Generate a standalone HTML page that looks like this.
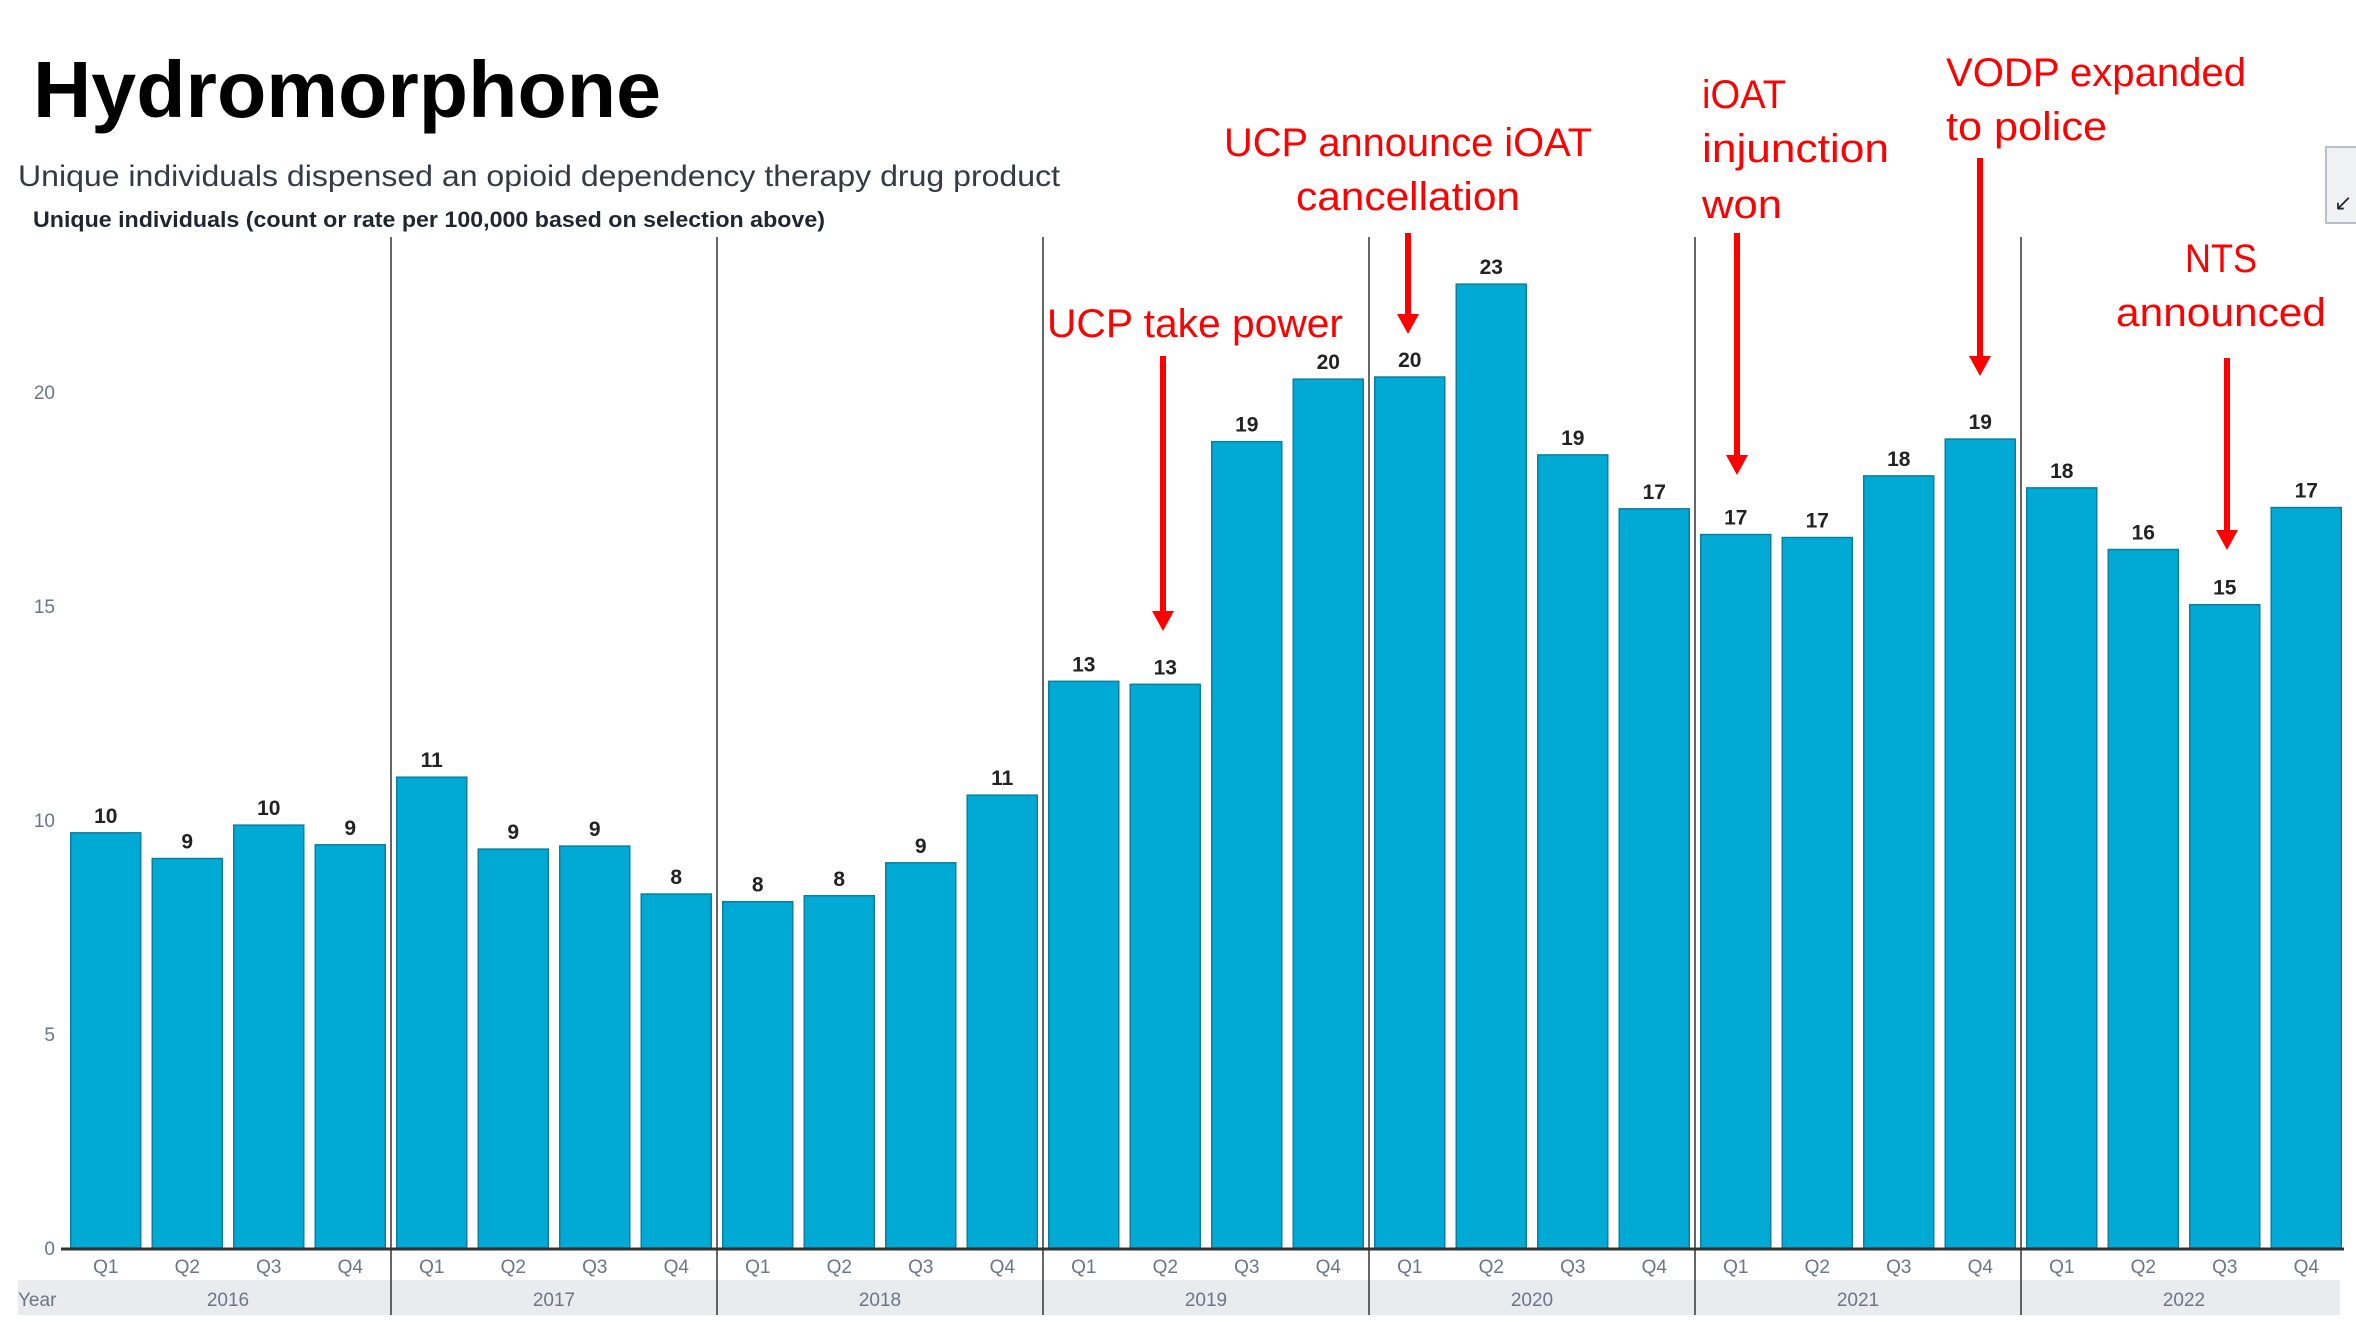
<!DOCTYPE html>
<html><head><meta charset="utf-8"><style>
html,body{margin:0;padding:0;background:#fff;width:2356px;height:1324px;overflow:hidden}
svg{display:block}
text{font-family:"Liberation Sans",sans-serif}
</style></head><body>
<svg id="chart" width="2356" height="1324" viewBox="0 0 2356 1324">
<text x="33" y="117" font-size="80" font-weight="bold" fill="#000" textLength="628" lengthAdjust="spacingAndGlyphs">Hydromorphone</text>
<text x="18" y="186" font-size="30" fill="#333a44" textLength="1042" lengthAdjust="spacingAndGlyphs">Unique individuals dispensed an opioid dependency therapy drug product</text>
<text x="33" y="227" font-size="22" font-weight="bold" fill="#1f2630" textLength="792" lengthAdjust="spacingAndGlyphs">Unique individuals (count or rate per 100,000 based on selection above)</text>
<rect x="18" y="1280" width="2322" height="35" fill="#e9ecef"/>
<text x="18" y="1306" font-size="19" fill="#6b7585">Year</text>
<g id="grid"></g><g id="bars"></g><g id="labels"></g><g id="axis"></g>
<g id="notes"></g>
<rect x="2326" y="147" width="32" height="76" fill="#f1f2f4" stroke="#b9c0c8" stroke-width="2"/>
<text x="2334" y="210" font-size="22" fill="#1f2630">↙</text>
</svg>
<script>
const years=["2016","2017","2018","2019","2020","2021","2022"];
const quarters=["Q1","Q2","Q3","Q4"];
const values=[9.70,9.10,9.88,9.42, 11.0,9.32,9.39,8.27, 8.09,8.23,9.0,10.58, 13.24,13.17,18.84,20.3, 20.35,22.52,18.53,17.27, 16.67,16.6,18.04,18.9, 17.76,16.32,15.03,17.3];
const yTicks=[0,5,10,15,20];
const NS="http://www.w3.org/2000/svg";
const x0=65,pitch=81.5,bw=70,y0=1248,pxPer=42.8;
const xs=i=>x0+i*pitch;
const ys=v=>y0-v*pxPer;
function mk(tag,attrs,parent,txt){const e=document.createElementNS(NS,tag);for(const k in attrs)e.setAttribute(k,attrs[k]);if(txt!==undefined)e.textContent=txt;document.getElementById(parent).appendChild(e);return e;}
yTicks.forEach(t=>{
  const e=mk('text',{x:55,y:ys(t)+7,'font-size':19,fill:'#6b7585','text-anchor':'end'},'axis',String(t));
  
  
});
values.forEach((v,i)=>{
  const x=xs(i)+(pitch-bw)/2;
  const r=mk('rect',{x:x,y:ys(v),width:bw,height:v*pxPer,fill:'#00aad4',stroke:'#0b7f9c','stroke-width':1.5},'bars');
  
  
  const l=mk('text',{x:x+bw/2,y:ys(v)-10,'font-size':21,'font-weight':'bold',fill:'#222','text-anchor':'middle'},'labels',String(Math.round(v)));
  
  
  const q=mk('text',{x:x+bw/2,y:1273,'font-size':19,fill:'#6b7585','text-anchor':'middle'},'axis',quarters[i%4]);
  
  
});
years.forEach((y,j)=>{
  const cx=xs(j*4)+2*pitch;
  const t=mk('text',{x:cx,y:1306,'font-size':19,fill:'#6b7585','text-anchor':'middle'},'axis',y);
  
  
  if(j>0){
    const ln=mk('line',{x1:xs(j*4),x2:xs(j*4),y1:237,y2:1315,stroke:'#333','stroke-width':1.5},'grid');
    
    
  }
});
const base=mk('line',{x1:x0-4,x2:2344,y1:y0+1,y2:y0+1,stroke:'#333','stroke-width':3},'axis');


const notes=[
 {lines:["UCP take power"],x:1195,ys:[337],anchor:'middle',w:[296],ax:1163,a1:356,a2:631},
 {lines:["UCP announce iOAT","cancellation"],x:1408,ys:[156,210],anchor:'middle',w:[368,224],ax:1408,a1:233,a2:334},
 {lines:["iOAT","injunction","won"],x:1702,ys:[108,162,218],anchor:'start',w:[84,187,80],ax:1737,a1:233,a2:475},
 {lines:["VODP expanded","to police"],x:1946,ys:[86,140],anchor:'start',w:[300,161],ax:1980,a1:158,a2:376},
 {lines:["NTS","announced"],x:2221,ys:[272,326],anchor:'middle',w:[72,210],ax:2227,a1:358,a2:550}
];
notes.forEach((n,k)=>{
  n.lines.forEach((s,i)=>{
    const t=mk('text',{x:n.x,y:n.ys[i],'font-size':40,fill:'#ff0000','text-anchor':n.anchor,textLength:n.w[i],lengthAdjust:'spacingAndGlyphs'},'notes',s);
    
    
  });
  const l=mk('line',{x1:n.ax,x2:n.ax,y1:n.a1,y2:n.a2-16,stroke:'#ff0000','stroke-width':6},'notes');
  
  
  const h=mk('polygon',{points:`${n.ax-11},${n.a2-20} ${n.ax+11},${n.a2-20} ${n.ax},${n.a2}`,fill:'#ff0000'},'notes');
  
  
});
</script>
</body></html>
